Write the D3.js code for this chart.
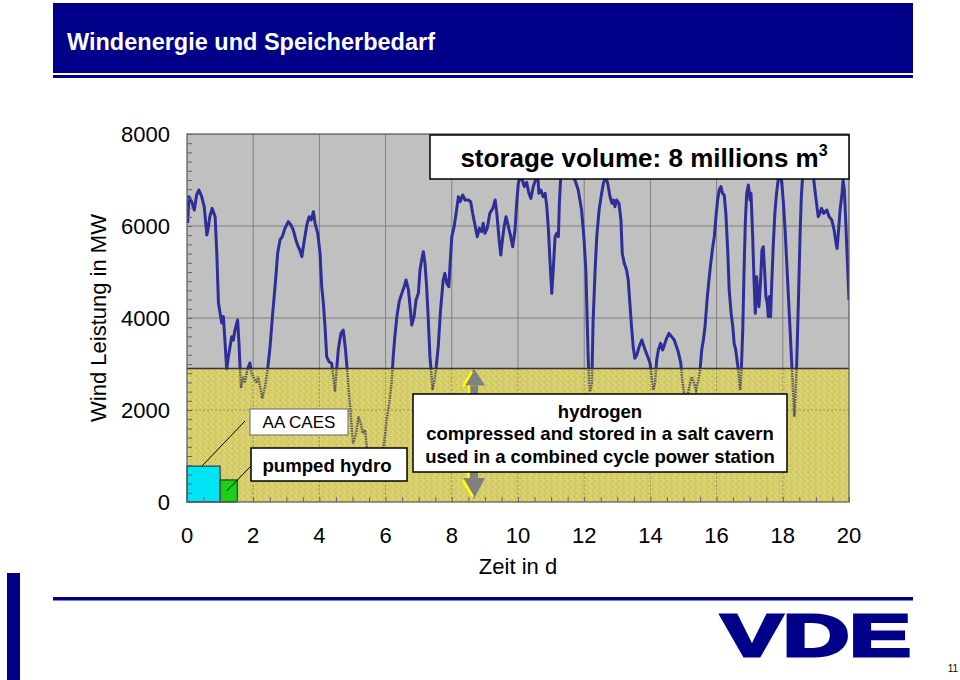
<!DOCTYPE html>
<html><head><meta charset="utf-8">
<script src="https://cdn.jsdelivr.net/npm/d3@7"></script>
<style>body{margin:0;background:#fff;} svg{display:block;font-family:"Liberation Sans",Arial,sans-serif;}</style>
</head><body><svg id="c" width="960" height="680"></svg>
<script>
// ---------------- DATA ----------------
const days = [0.02,0.06,0.14,0.22,0.29,0.36,0.44,0.52,0.60,0.64,0.69,0.76,0.85,0.90,0.95,1.00,1.05,1.10,1.15,1.20,1.25,1.30,1.35,1.40,1.45,1.53,1.57,1.63,1.70,1.75,1.82,1.90,1.95,2.05,2.11,2.15,2.21,2.27,2.36,2.44,2.51,2.58,2.66,2.74,2.81,2.88,2.96,3.06,3.14,3.21,3.29,3.36,3.41,3.47,3.53,3.62,3.69,3.75,3.82,3.87,3.95,4.02,4.07,4.12,4.17,4.22,4.29,4.37,4.42,4.47,4.52,4.57,4.65,4.72,4.79,4.84,4.92,4.98,5.02,5.11,5.18,5.25,5.31,5.38,5.43,5.48,5.59,5.71,5.83,5.92,5.98,6.03,6.11,6.18,6.23,6.28,6.34,6.41,6.49,6.56,6.62,6.69,6.74,6.79,6.86,6.92,6.99,7.04,7.09,7.14,7.19,7.24,7.29,7.34,7.39,7.42,7.46,7.52,7.59,7.66,7.74,7.79,7.85,7.91,7.95,8.00,8.07,8.13,8.20,8.25,8.33,8.40,8.50,8.57,8.63,8.70,8.77,8.83,8.90,8.95,9.00,9.07,9.15,9.24,9.31,9.36,9.43,9.48,9.54,9.59,9.64,9.71,9.78,9.84,9.91,9.96,10.01,10.06,10.13,10.19,10.26,10.33,10.39,10.46,10.53,10.60,10.63,10.69,10.76,10.82,10.87,10.92,10.97,11.02,11.07,11.12,11.17,11.22,11.25,11.30,11.42,11.57,11.62,11.72,11.82,11.92,11.99,12.05,12.09,12.12,12.15,12.18,12.23,12.27,12.33,12.38,12.45,12.51,12.58,12.65,12.71,12.78,12.84,12.89,12.93,12.98,13.05,13.11,13.15,13.21,13.28,13.33,13.38,13.43,13.48,13.53,13.59,13.66,13.74,13.79,13.86,13.92,13.99,14.04,14.09,14.14,14.19,14.24,14.31,14.37,14.44,14.49,14.56,14.64,14.72,14.79,14.84,14.92,14.96,15.02,15.11,15.20,15.25,15.32,15.38,15.45,15.50,15.55,15.60,15.65,15.72,15.80,15.87,15.93,15.98,16.03,16.08,16.13,16.18,16.23,16.28,16.34,16.38,16.44,16.49,16.53,16.58,16.63,16.68,16.71,16.74,16.79,16.83,16.87,16.91,16.96,17.01,17.04,17.09,17.13,17.17,17.21,17.25,17.28,17.33,17.37,17.41,17.45,17.49,17.53,17.56,17.59,17.63,17.67,17.71,17.76,17.81,17.86,17.92,17.97,18.02,18.07,18.12,18.17,18.22,18.27,18.32,18.35,18.38,18.42,18.47,18.52,18.56,18.61,18.76,18.92,18.97,19.02,19.07,19.12,19.17,19.24,19.33,19.40,19.48,19.55,19.61,19.64,19.67,19.73,19.79,19.82,19.86,19.90,19.94,20.00];
const windMW = [6065,6637,6529,6348,6674,6783,6650,6420,5804,5950,6203,6384,6203,5413,4326,4109,3891,4030,3456,2870,3159,3376,3594,3520,3739,3957,3456,2478,2724,2587,2870,3022,2804,2652,2587,2724,2507,2254,2507,2913,3376,4029,4680,5413,5696,5768,5950,6094,6022,5913,5696,5550,5478,5333,5623,6022,6203,6130,6311,6058,5841,5406,4680,4319,3811,3159,3050,3015,2724,2398,2870,3304,3667,3739,3304,2870,2145,1565,1275,1493,1854,1710,1493,1565,1202,1100,950,900,1000,1150,1420,1783,2145,2580,3159,3594,4029,4355,4536,4680,4826,4609,4246,3848,4029,4391,4536,5043,5261,5441,5188,4680,3957,3159,2724,2435,2580,2870,3376,4174,4826,4971,4754,4680,5188,5768,5986,6275,6637,6529,6674,6565,6565,6529,6275,6022,5768,5950,5877,6058,5841,5950,6275,6384,6565,6275,5696,5370,5768,6022,6203,5986,5768,5550,5913,6493,6928,7050,7000,6855,6950,6710,6601,6855,7000,7100,6710,6783,6637,6710,6420,5913,5188,4536,5116,5768,5841,5768,6493,7200,7500,7400,7100,7000,6783,6348,5768,5043,3957,3159,2580,2398,2580,3957,5043,5768,6348,6637,6928,7070,6928,6637,6493,6565,6420,6565,6493,6130,5406,5188,5043,4826,4319,3811,3376,3123,3196,3376,3522,3413,3268,3159,3015,2724,2435,2580,3087,3304,3449,3304,3449,3558,3667,3594,3522,3376,3268,3015,2652,2362,2290,2580,2724,2580,2435,2652,2870,3304,3522,3811,4463,5043,5478,5768,6203,6565,6783,6855,6710,6674,6275,5406,4609,4101,3811,3449,3304,3015,2724,2435,2724,3739,5043,6130,6710,6891,6565,6710,5768,4826,4101,4898,4463,4246,4826,5478,5550,5043,4463,4319,4029,4463,4029,4826,5550,6275,6710,7000,7150,6928,6493,5913,5188,4463,3739,3015,2290,1854,2290,3015,4319,5768,6637,7200,7500,7100,6783,6493,6203,6275,6384,6275,6348,6203,6130,5913,5623,5514,5768,6348,6710,7000,6783,6130,5406,4391];
const xTickValues = [0,2,4,6,8,10,12,14,16,18,20];
const yTickValues = [0,2000,4000,6000,8000];
const hydrogenBandMW = 2900;           // top of the hydrogen storage band
const storeNames = ["AA CAES","pumped hydro"];
const storeDays = [1.0, 0.52];         // width of storage block (days)
const storeMW = [780, 480];            // height of storage block (MW)
const storeColors = ["#00e5f5","#18d018"];
const titleText = "Windenergie und Speicherbedarf";
const hydrogenLines = ["hydrogen","compressed and stored in a salt cavern","used in a combined cycle power station"];

// ---------------- SETUP ----------------
const svg = d3.select("#c");
const navy = "#000088";
const x = d3.scaleLinear().domain([0,20]).range([187,849]);
const y = d3.scaleLinear().domain([0,8000]).range([502,134]);
const X0 = x(0), X1 = x(20), Y0 = y(0), Y1 = y(8000), YB = y(hydrogenBandMW);

const defs = svg.append("defs");
const pat = defs.append("pattern").attr("id","speck").attr("width",6).attr("height",6).attr("patternUnits","userSpaceOnUse");
pat.append("rect").attr("width",6).attr("height",6).attr("fill","#d6ce6a");
[[0,0,"#c6bd55"],[3,1,"#e3dc86"],[1,3,"#e0d87c"],[4,4,"#bfb64e"],[2,5,"#e6df8e"],[5,2,"#cac25c"],[0,4,"#ddd477"]].forEach(p=>{
  pat.append("rect").attr("x",p[0]).attr("y",p[1]).attr("width",1).attr("height",1).attr("fill",p[2]);
});
defs.append("clipPath").attr("id","clipTop").append("rect").attr("x",X0).attr("y",Y1).attr("width",X1-X0).attr("height",YB-Y1);
defs.append("clipPath").attr("id","clipBot").append("rect").attr("x",X0).attr("y",YB).attr("width",X1-X0).attr("height",Y0-YB);

// ---------------- HEADER / FOOTER ----------------
svg.append("rect").attr("x",53).attr("y",3).attr("width",860).attr("height",70).attr("fill",navy);
svg.append("rect").attr("x",53).attr("y",75).attr("width",860).attr("height",3).attr("fill",navy);
svg.append("text").attr("x",67).attr("y",50).attr("fill","#fff").attr("font-size",23.5).attr("font-weight","bold").text(titleText);
svg.append("rect").attr("x",7).attr("y",573).attr("width",13).attr("height",107).attr("fill",navy);
svg.append("rect").attr("x",53).attr("y",597).attr("width",860).attr("height",3.5).attr("fill",navy);
svg.append("text").attr("x",721).attr("y",656).attr("fill",navy).attr("stroke",navy).attr("stroke-width",3)
  .attr("font-size",59).attr("font-weight","bold").attr("textLength",190).attr("lengthAdjust","spacingAndGlyphs").text("VDE");
svg.append("text").attr("x",953).attr("y",672).attr("text-anchor","middle").attr("font-size",10).attr("fill","#000").text("11");

// ---------------- PLOT ----------------
const g = svg.append("g");
g.append("rect").attr("x",X0).attr("y",Y1).attr("width",X1-X0).attr("height",Y0-Y1).attr("fill","#c0c0c0");
// gridlines (gray area)
g.append("g").selectAll("line").data(xTickValues.slice(1,-1)).join("line")
  .attr("x1",d=>x(d)).attr("x2",d=>x(d)).attr("y1",Y1).attr("y2",YB).attr("stroke","#808080").attr("stroke-width",1);
g.append("g").selectAll("line").data(yTickValues.filter(v=>y(v)<YB && v<8000)).join("line")
  .attr("x1",X0).attr("x2",X1).attr("y1",d=>y(d)).attr("y2",d=>y(d)).attr("stroke","#808080").attr("stroke-width",1);

const pts = days.map((d,i)=>[d,windMW[i]]);
const line = d3.line().x(d=>x(d[0])).y(d=>y(d[1]));
g.append("path").datum(pts).attr("d",line).attr("clip-path","url(#clipTop)")
  .attr("fill","none").attr("stroke","#2e2e98").attr("stroke-width",3).attr("stroke-linejoin","round");

// hydrogen band
g.append("rect").attr("x",X0).attr("y",YB).attr("width",X1-X0).attr("height",Y0-YB).attr("fill","url(#speck)");
g.append("g").selectAll("line").data(xTickValues.slice(1,-1)).join("line")
  .attr("x1",d=>x(d)).attr("x2",d=>x(d)).attr("y1",YB).attr("y2",Y0).attr("stroke","#8a8a60").attr("stroke-width",1).attr("stroke-dasharray","2,2");
g.append("g").selectAll("line").data(yTickValues.filter(v=>y(v)>YB && v>0)).join("line")
  .attr("x1",X0).attr("x2",X1).attr("y1",d=>y(d)).attr("y2",d=>y(d)).attr("stroke","#8a8a60").attr("stroke-width",1).attr("stroke-dasharray","2,2");
g.append("path").datum(pts).attr("d",line).attr("clip-path","url(#clipBot)")
  .attr("fill","none").attr("stroke","#5a5a5a").attr("stroke-width",2.5).attr("stroke-dasharray","1.5,1");
g.append("line").attr("x1",X0).attr("x2",X1).attr("y1",YB).attr("y2",YB).attr("stroke","#333").attr("stroke-width",1.5);

// small storage blocks
let sx = 0;
const blocks = storeNames.map((n,i)=>{ const b={name:n,x0:sx,x1:sx+storeDays[i],mw:storeMW[i],color:storeColors[i]}; sx+=storeDays[i]; return b;});
g.selectAll("rect.blk").data(blocks).join("rect").attr("class","blk")
  .attr("x",d=>x(d.x0)).attr("y",d=>y(d.mw)).attr("width",d=>x(d.x1)-x(d.x0)).attr("height",d=>Y0-y(d.mw))
  .attr("fill",d=>d.color).attr("stroke","#222").attr("stroke-width",1);

// plot frame
g.append("rect").attr("x",X0).attr("y",Y1).attr("width",X1-X0).attr("height",Y0-Y1).attr("fill","none").attr("stroke","#555").attr("stroke-width",1.2);

// minor ticks
g.append("g").attr("transform",`translate(${X0},0)`)
  .call(d3.axisLeft(y).tickValues(d3.range(0,8001,200)).tickSize(-5).tickFormat(""))
  .call(s=>{s.select(".domain").remove(); s.selectAll("line").attr("stroke","#666");});
g.append("g").attr("transform",`translate(0,${Y0})`)
  .call(d3.axisBottom(x).tickValues(d3.range(0,20.01,0.5)).tickSize(-5).tickFormat(""))
  .call(s=>{s.select(".domain").remove(); s.selectAll("line").attr("stroke","#666");});

// tick labels
svg.append("g").selectAll("text").data(yTickValues).join("text")
  .attr("x",170).attr("y",d=>y(d)).attr("dy","0.36em").attr("text-anchor","end").attr("font-size",22).text(d=>d);
svg.append("g").selectAll("text").data(xTickValues).join("text")
  .attr("x",d=>x(d)).attr("y",535).attr("dy","0.36em").attr("text-anchor","middle").attr("font-size",22).text(d=>d);
svg.append("text").attr("x",518).attr("y",566).attr("dy","0.36em").attr("text-anchor","middle").attr("font-size",22).text("Zeit in d");
svg.append("text").attr("transform","translate(98,318) rotate(-90)").attr("dy","0.36em").attr("text-anchor","middle").attr("font-size",22).text("Wind Leistung in MW");

// storage volume label
svg.append("rect").attr("x",430).attr("y",135).attr("width",419).attr("height",44).attr("fill","#fff").attr("stroke","#000").attr("stroke-width",1.5);
const st = svg.append("text").attr("x",644).attr("y",167).attr("text-anchor","middle").attr("font-size",26).attr("font-weight","bold");
st.append("tspan").text("storage volume: 8 millions m");
st.append("tspan").attr("font-size",16).attr("dy",-11).text("3");

// AA CAES / pumped hydro labels + leader lines
svg.append("line").attr("x1",x(blocks[0].x0+0.45)).attr("y1",y(blocks[0].mw)).attr("x2",245).attr("y2",421).attr("stroke","#000").attr("stroke-width",1);
svg.append("line").attr("x1",x(blocks[1].x0+0.2)).attr("y1",y(240)).attr("x2",251).attr("y2",466).attr("stroke","#000").attr("stroke-width",1);
svg.append("rect").attr("x",250).attr("y",409).attr("width",98).attr("height",26).attr("fill","#fff").attr("stroke","#666").attr("stroke-width",1);
svg.append("text").attr("x",299).attr("y",422).attr("dy","0.36em").attr("text-anchor","middle").attr("font-size",17).text("AA CAES");
svg.append("rect").attr("x",251).attr("y",448).attr("width",156).attr("height",33).attr("fill","#fff").attr("stroke","#000").attr("stroke-width",1.5);
svg.append("text").attr("x",327).attr("y",465).attr("dy","0.36em").attr("text-anchor","middle").attr("font-size",18.6).attr("font-weight","bold").text("pumped hydro");

// arrows (span the hydrogen band)
const ax = 474;
function arrow(tipY, baseY, shaftEnd){
  const up = tipY < baseY;
  svg.append("rect").attr("x",ax-4).attr("y",Math.min(baseY,shaftEnd)).attr("width",8).attr("height",Math.abs(shaftEnd-baseY)).attr("fill","#808080");
  svg.append("path").attr("d",`M${ax},${tipY} L${ax+11},${baseY} L${ax-11},${baseY} Z`).attr("fill","#808080");
  if(up){
    svg.append("path").attr("d",`M${ax-2},${tipY+3} L${ax-11},${baseY+1} M${ax-5},${baseY} L${ax-5},${shaftEnd}`).attr("stroke","#ffff00").attr("stroke-width",2.5).attr("fill","none");
  } else {
    svg.append("path").attr("d",`M${ax-6},${shaftEnd} L${ax-6},${baseY} M${ax-11},${baseY+2} L${ax-1},${tipY-2}`).attr("stroke","#ffff00").attr("stroke-width",2.5).attr("fill","none");
  }
}
arrow(YB, YB+17, 394);
arrow(Y0-3, 478, 472);

// hydrogen label
svg.append("rect").attr("x",413).attr("y",394).attr("width",374).attr("height",78).attr("fill","#fff").attr("stroke","#000").attr("stroke-width",1.5);
svg.append("g").selectAll("text").data(hydrogenLines).join("text")
  .attr("x",600).attr("y",(d,i)=>411+i*22.5).attr("dy","0.36em").attr("text-anchor","middle").attr("font-size",18.5).attr("font-weight","bold").text(d=>d);
</script></body></html>
